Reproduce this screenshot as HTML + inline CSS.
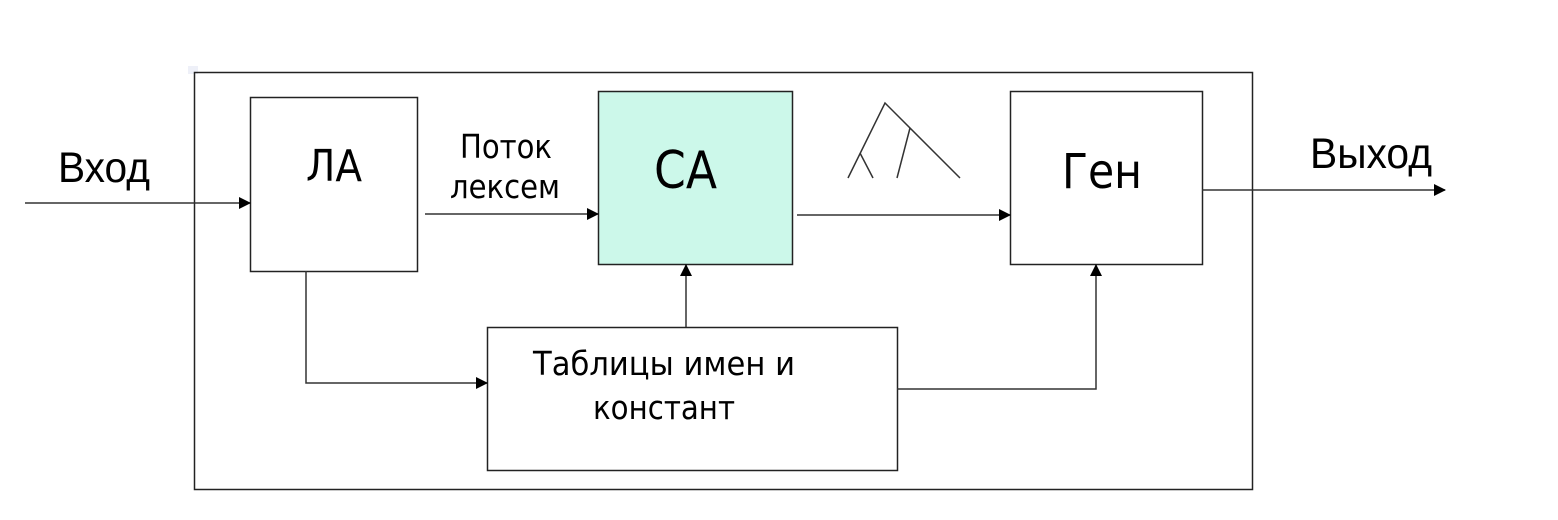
<!DOCTYPE html>
<html><head><meta charset="utf-8"><style>
html,body{margin:0;padding:0;background:#fff;}
svg{display:block;}
text{font-family:"DejaVu Sans","Liberation Sans",sans-serif;fill:#000;}
.ls{font-family:"Liberation Sans","DejaVu Sans",sans-serif;}
</style></head><body>
<svg width="1558" height="520" viewBox="0 0 1558 520" xmlns="http://www.w3.org/2000/svg">
<defs>
<marker id="a" markerWidth="12" markerHeight="12" refX="11" refY="6" orient="auto" markerUnits="userSpaceOnUse">
<path d="M0,0 L12,6 L0,12 Z" fill="#000"/>
</marker>
</defs>
<rect x="188" y="66" width="10" height="8" fill="#eef0f8"/>
<rect x="194.5" y="72.5" width="1058" height="417" fill="none" stroke="#222" stroke-width="1.5"/>
<rect x="250.5" y="97.5" width="167" height="174" fill="#fff" stroke="#222" stroke-width="1.5"/>
<rect x="598.5" y="91.5" width="194" height="173" fill="#ccf8ea" stroke="#222" stroke-width="1.5"/>
<rect x="1010.5" y="91.5" width="192" height="173" fill="#fff" stroke="#222" stroke-width="1.5"/>
<rect x="487.5" y="327.5" width="410" height="143" fill="#fff" stroke="#222" stroke-width="1.5"/>
<g stroke="#333" stroke-width="1.5" fill="none">
<line x1="25" y1="203" x2="250" y2="203" marker-end="url(#a)"/>
<line x1="425" y1="214" x2="598" y2="214" marker-end="url(#a)"/>
<line x1="797" y1="215" x2="1010" y2="215" marker-end="url(#a)"/>
<line x1="1202" y1="190" x2="1445" y2="190" marker-end="url(#a)"/>
<polyline points="306,271 306,383 487,383" marker-end="url(#a)"/>
<line x1="686" y1="327" x2="686" y2="265" marker-end="url(#a)"/>
<polyline points="897,389 1096,389 1096,265" marker-end="url(#a)"/>
<polyline points="848,178 885,103 960,178"/>
<line x1="860" y1="153" x2="873" y2="178"/>
<line x1="910" y1="128" x2="897" y2="178"/>
</g>
<text class="ls" x="58" y="182" font-size="43" textLength="92" lengthAdjust="spacingAndGlyphs">Вход</text>
<text class="ls" x="1310" y="168" font-size="43" textLength="122" lengthAdjust="spacingAndGlyphs">Выход</text>
<text x="306" y="181" font-size="44" textLength="56" lengthAdjust="spacingAndGlyphs">ЛА</text>
<text x="654" y="188" font-size="52" textLength="63" lengthAdjust="spacingAndGlyphs">СА</text>
<text x="1062" y="188" font-size="48" textLength="80" lengthAdjust="spacingAndGlyphs">Ген</text>
<text x="460" y="158" font-size="33" textLength="92" lengthAdjust="spacingAndGlyphs">Поток</text>
<text x="450" y="198" font-size="33" textLength="110" lengthAdjust="spacingAndGlyphs">лексем</text>
<text x="533" y="375" font-size="33" textLength="262" lengthAdjust="spacingAndGlyphs">Таблицы имен и</text>
<text x="593" y="419" font-size="33" textLength="142" lengthAdjust="spacingAndGlyphs">констант</text>
</svg>
</body></html>
